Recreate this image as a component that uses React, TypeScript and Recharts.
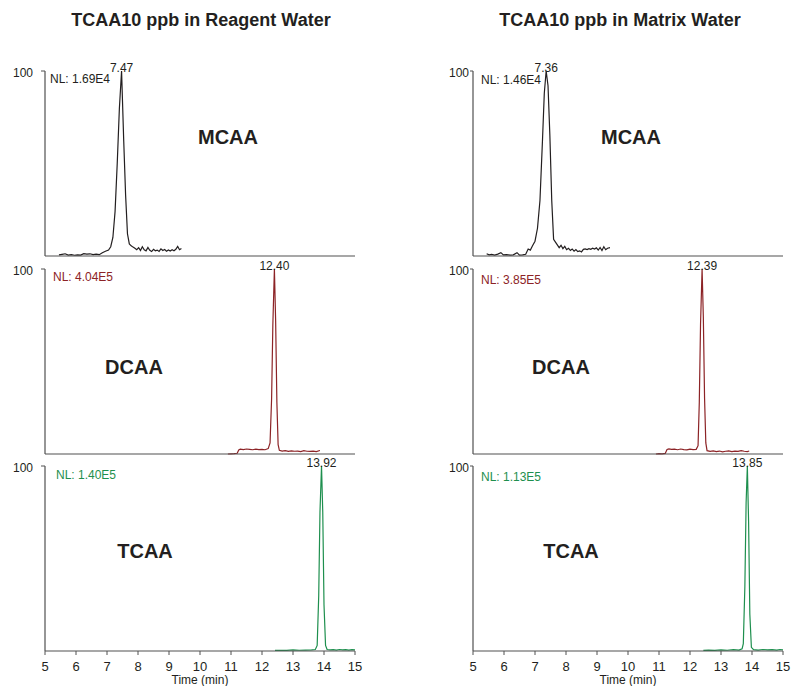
import React from "react";
import { LineChart, Line, XAxis, YAxis, ReferenceDot } from "recharts";

const timeTicks = [5, 6, 7, 8, 9, 10, 11, 12, 13, 14, 15];

// TCAA 10 ppb in reagent water
const reagentMcaaTime = [
  5.45, 5.55, 5.65, 5.75, 5.85, 5.95, 6.05, 6.15, 6.25, 6.35, 6.45, 6.55, 6.65, 6.75, 6.85, 6.95,
  7.05, 7.12, 7.19, 7.26, 7.33, 7.4, 7.47, 7.54, 7.6, 7.66, 7.72, 7.78, 7.84, 7.9, 7.96, 8.02,
  8.08, 8.14, 8.2, 8.26, 8.32, 8.38, 8.44, 8.5, 8.56, 8.62, 8.68, 8.74, 8.8, 8.86, 8.92, 8.98,
  9.04, 9.1, 9.16, 9.22, 9.28, 9.34, 9.4,
];
const reagentMcaaSignal = [
  0.6, 0.9, 1.2, 0.5, 0.7, 0.4, 0.6, 0.5, 1.3, 1.0, 1.2, 0.8, 1.0, 0.7, 1.8, 2.6,
  3.2, 5, 10, 24, 50, 80, 100, 62, 33, 12, 6.5, 5.5, 4.8, 4.2, 3.4, 4.5,
  3.0, 5.0, 3.4, 2.8, 4.6, 3.1, 2.4, 3.6, 2.8, 3.2, 2.5, 3.9, 3.0, 3.5, 2.6, 3.3,
  2.7, 3.4, 2.8, 3.6, 5.2, 3.4, 4.0,
];

const reagentDcaaTime = [
  10.9, 11.0, 11.1, 11.2, 11.25, 11.3, 11.4, 11.5, 11.6, 11.7, 11.8, 11.9, 12.0, 12.1, 12.2,
  12.26, 12.31, 12.35, 12.4, 12.44, 12.48, 12.52, 12.56, 12.65, 12.75, 12.85, 12.95, 13.05,
  13.15, 13.25, 13.35, 13.45, 13.55, 13.65, 13.75, 13.87,
];
const reagentDcaaSignal = [
  0, 0.1, 0.2, 0.4, 2.2, 2.6, 2.4, 2.7, 2.5, 2.3, 2.6, 2.4, 2.5, 2.3, 2.9,
  6, 30, 70, 100, 72, 28, 5, 2.0, 1.6, 1.8, 1.4, 1.7, 1.5,
  1.6, 1.3, 1.8, 1.5, 1.4, 1.6, 1.3, 1.9,
];

const reagentTcaaTime = [
  12.42, 12.6, 12.8, 13.0, 13.2, 13.4, 13.6, 13.72, 13.78, 13.83, 13.87, 13.92, 13.96, 14.0,
  14.05, 14.1, 14.2, 14.3, 14.4, 14.5, 14.6, 14.7, 14.8, 14.9, 15.0,
];
const reagentTcaaSignal = [
  0.3, 0.4, 0.3, 0.6, 0.4, 0.5, 0.6, 0.8, 3, 30, 75, 100, 75, 25,
  3, 0.8, 0.6, 0.7, 0.5, 0.8, 0.6, 0.7, 0.5, 0.7, 0.6,
];

// TCAA 10 ppb in matrix water
const matrixMcaaTime = [
  5.44, 5.52, 5.6, 5.7, 5.8, 5.9, 5.98, 6.08, 6.2, 6.3, 6.42, 6.5, 6.6, 6.7, 6.78, 6.85,
  6.92, 7.0, 7.08, 7.16, 7.24, 7.3, 7.36, 7.42, 7.48, 7.54, 7.6, 7.66, 7.72, 7.78, 7.84, 7.9,
  7.96, 8.02, 8.08, 8.14, 8.2, 8.26, 8.32, 8.38, 8.44, 8.5, 8.56, 8.62, 8.68, 8.74, 8.8, 8.86,
  8.92, 8.98, 9.04, 9.1, 9.16, 9.22, 9.28, 9.34, 9.42,
];
const matrixMcaaSignal = [
  1.2, 0.6, 0.9, 0.5, 1.0, 1.8, 0.6, 0.7, 0.5, 0.6, 1.8, 0.5, 0.6, 0.9, 3.8, 3.2,
  5.5, 8, 15, 30, 62, 88, 100, 92, 65, 30, 9, 7.5, 6, 4.5, 5.8, 4.0,
  5.2, 3.4, 4.2, 3.0, 3.8, 2.6, 3.5, 2.4, 2.8, 2.2, 3.6, 3.8, 3.5, 4.0, 3.6, 4.2,
  3.8, 4.4, 3.2, 4.6, 3.0, 5.0, 3.4, 4.2, 4.5,
];

const matrixDcaaTime = [
  10.9, 11.0, 11.1, 11.2, 11.26, 11.32, 11.4, 11.5, 11.6, 11.7, 11.8, 11.9, 12.0, 12.1, 12.2,
  12.26, 12.3, 12.34, 12.39, 12.43, 12.47, 12.51, 12.55, 12.65, 12.75, 12.85, 12.95, 13.05,
  13.15, 13.25, 13.35, 13.45, 13.55, 13.65, 13.75, 13.85, 13.91,
];
const matrixDcaaSignal = [
  0, 0.2, 0.1, 0.3, 2.4, 2.8, 2.5, 2.6, 2.3, 2.7, 2.4, 2.2, 2.6, 2.4, 2.5,
  4.5, 28, 70, 100, 74, 30, 6, 1.8, 1.4, 1.7, 1.3, 1.6, 1.2,
  1.5, 1.7, 1.3, 1.6, 1.4, 1.8, 1.5, 1.3, 1.6,
];

const matrixTcaaTime = [
  12.43, 12.6, 12.8, 13.0, 13.2, 13.4, 13.58, 13.68, 13.72, 13.77, 13.81, 13.85, 13.89, 13.93,
  13.98, 14.05, 14.2, 14.35, 14.5, 14.65, 14.8, 14.9, 15.0,
];
const matrixTcaaSignal = [
  0.3, 0.5, 0.3, 0.6, 0.4, 0.7, 0.5, 1.2, 4, 35, 80, 100, 70, 20,
  2, 0.7, 0.5, 0.8, 0.6, 0.7, 0.5, 0.8, 0.6,
];

const TEXT = "#231f20";
const AXIS = "#505050";
const BLACK = "#231f20";
const RED = "#8c2326";
const GREEN = "#1e8f4e";
const FONT = '"Liberation Sans", Arial, Helvetica, sans-serif';

const PLOT_W = 310;
const PLOT_H = 185;
const Y_W = 45;
const TOP_PAD = 22;

type TraceProps = {
  time: number[];
  signal: number[];
  color: string;
  peak: number;
  plotX: number;
  plotY: number;
  bottom?: boolean;
  right?: boolean;
};

const Trace = ({ time, signal, color, peak, plotX, plotY, bottom, right }: TraceProps) => {
  const data = time.map((t, i) => ({ t, v: signal[i] }));
  const xH = bottom ? 35 : 2;
  const w = Y_W + PLOT_W + 8;
  const h = TOP_PAD + PLOT_H + xH + (bottom ? 0 : 2);
  return (
    <div style={{ position: "absolute", left: plotX - Y_W, top: plotY - TOP_PAD }}>
      <LineChart
        width={w}
        height={h}
        data={data}
        margin={{ top: TOP_PAD, right: 8, bottom: bottom ? 0 : 2, left: 0 }}
      >
        <XAxis
          dataKey="t"
          type="number"
          domain={[5, 15]}
          ticks={timeTicks}
          interval={0}
          allowDataOverflow
          height={xH}
          axisLine={{ stroke: AXIS, strokeWidth: 1.2 }}
          tick={bottom ? { fontSize: 13, fill: TEXT, fontFamily: FONT } : false}
          tickLine={bottom ? { stroke: AXIS } : false}
          tickSize={4}
          tickMargin={7}
          label={
            bottom
              ? { value: "Time (min)", position: "insideBottom", offset: 2, fontSize: 12, fill: TEXT, fontFamily: FONT }
              : undefined
          }
        />
        <YAxis
          type="number"
          domain={[0, 100]}
          ticks={[100]}
          width={Y_W}
          axisLine={{ stroke: AXIS, strokeWidth: 1.2 }}
          tickLine={{ stroke: AXIS }}
          tickSize={right ? 3 : 4}
          tickMargin={right ? 1 : 8}
          tick={({ x, y, payload }: any) => (
            <text x={x} y={y + 3} textAnchor="end" dominantBaseline="middle" fontSize={12} fill={TEXT} fontFamily={FONT}>
              {payload.value}
            </text>
          )}
        />
        <Line
          type="linear"
          dataKey="v"
          stroke={color}
          strokeWidth={1.2}
          dot={false}
          isAnimationActive={false}
        />
        <ReferenceDot
          x={peak}
          y={100}
          r={0}
          fill="none"
          stroke="none"
          label={{ value: peak.toFixed(2), position: "top", offset: -1, fontSize: 12, fill: TEXT, fontFamily: FONT }}
        />
      </LineChart>
    </div>
  );
};

const Label = ({ x, y, text, size, color, bold, center }: any) => (
  <div
    style={{
      position: "absolute",
      left: x,
      top: y - size / 2,
      fontSize: size,
      lineHeight: 1,
      color,
      fontWeight: bold ? 700 : 400,
      whiteSpace: "nowrap",
      transform: center ? "translateX(-50%)" : undefined,
    }}
  >
    {text}
  </div>
);

export default function App() {
  return (
    <div
      style={{
        position: "absolute",
        left: 0,
        top: 0,
        width: 791,
        height: 686,
        background: "#fff",
        fontFamily: FONT,
        overflow: "hidden",
      }}
    >
      <Label x={201} y={20} text="TCAA10 ppb in Reagent Water" size={18} color={TEXT} bold center />
      <Label x={620} y={20} text="TCAA10 ppb in Matrix Water" size={18} color={TEXT} bold center />

      <Trace time={reagentMcaaTime} signal={reagentMcaaSignal} color={BLACK} peak={7.47} plotX={45} plotY={71} />
      <Trace time={reagentDcaaTime} signal={reagentDcaaSignal} color={RED} peak={12.4} plotX={45} plotY={269} />
      <Trace time={reagentTcaaTime} signal={reagentTcaaSignal} color={GREEN} peak={13.92} plotX={45} plotY={466} bottom />

      <Trace time={matrixMcaaTime} signal={matrixMcaaSignal} color={BLACK} peak={7.36} plotX={473} plotY={71} right />
      <Trace time={matrixDcaaTime} signal={matrixDcaaSignal} color={RED} peak={12.39} plotX={473} plotY={269} right />
      <Trace time={matrixTcaaTime} signal={matrixTcaaSignal} color={GREEN} peak={13.85} plotX={473} plotY={466} bottom right />

      <Label x={50} y={79} text="NL: 1.69E4" size={12} color={BLACK} />
      <Label x={53} y={277} text="NL: 4.04E5" size={12} color={RED} />
      <Label x={56} y={475} text="NL: 1.40E5" size={12} color={GREEN} />
      <Label x={481} y={80} text="NL: 1.46E4" size={12} color={BLACK} />
      <Label x={481} y={280} text="NL: 3.85E5" size={12} color={RED} />
      <Label x={481} y={477} text="NL: 1.13E5" size={12} color={GREEN} />

      <Label x={228} y={137} text="MCAA" size={20} color={TEXT} bold center />
      <Label x={134} y={367} text="DCAA" size={20} color={TEXT} bold center />
      <Label x={145} y={551} text="TCAA" size={20} color={TEXT} bold center />
      <Label x={631} y={137} text="MCAA" size={20} color={TEXT} bold center />
      <Label x={561} y={367} text="DCAA" size={20} color={TEXT} bold center />
      <Label x={571} y={551} text="TCAA" size={20} color={TEXT} bold center />
    </div>
  );
}
